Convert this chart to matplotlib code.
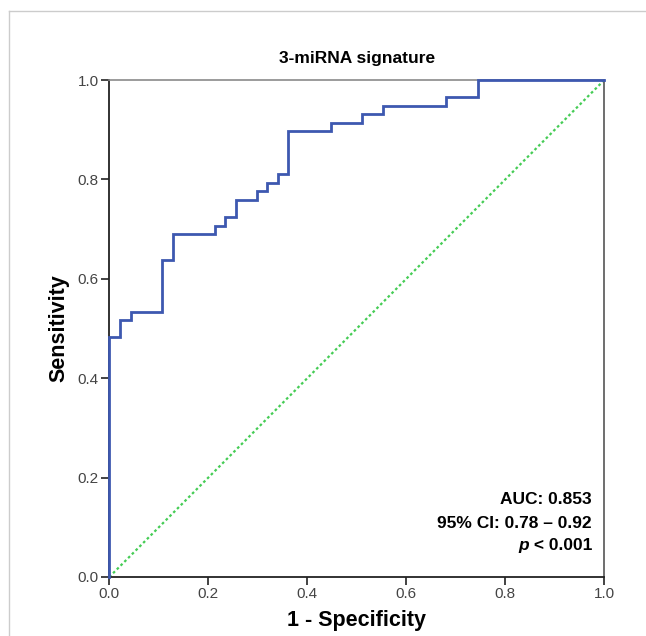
import matplotlib
matplotlib.use("Agg")
import matplotlib.pyplot as plt
from matplotlib.lines import Line2D

plt.rcParams['font.family'] = ['Liberation Sans', 'DejaVu Sans']

# ROC step corners (steps-post): false positive rate and sensitivity
fpr = [0.0, 0.0, 0.021, 0.043, 0.106, 0.128, 0.213, 0.234, 0.255, 0.298,
       0.319, 0.340, 0.362, 0.447, 0.511, 0.553, 0.681, 0.745, 1.0]
tpr = [0.0, 0.483, 0.517, 0.534, 0.638, 0.690, 0.707, 0.724, 0.759, 0.776,
       0.793, 0.810, 0.897, 0.914, 0.931, 0.948, 0.966, 1.0, 1.0]
ref_x = [0.0, 1.0]
ref_y = [0.0, 1.0]
ticks = [0.0, 0.2, 0.4, 0.6, 0.8, 1.0]
tick_labels = ["0.0", "0.2", "0.4", "0.6", "0.8", "1.0"]
title = "3-miRNA signature"
stats_lines = ["AUC: 0.853", "95% CI: 0.78 \u2013 0.92"]

fig = plt.figure(figsize=(6.46, 6.36), dpi=100)
ax = fig.add_axes([109.3 / 646, 59 / 636, 495 / 646, 497 / 636])

ax.plot(ref_x, ref_y, color='#45cc55', linestyle=(0, (1.2, 1.2)), lw=1.6, zorder=2)
ax.plot(fpr, tpr, drawstyle='steps-post', color='#3d58b0', lw=2.0, zorder=3,
        solid_joinstyle='miter', clip_on=False)

ax.set_xlim(0, 1)
ax.set_ylim(0, 1)
ax.set_xticks(ticks)
ax.set_xticklabels(tick_labels)
ax.set_yticks(ticks)
ax.set_yticklabels(tick_labels)
ax.tick_params(direction='out', length=6, width=1.2, color='#222222',
               labelsize=11, labelcolor='#444444', pad=1.5)

for side in ['left', 'bottom']:
    ax.spines[side].set_color('#222222')
    ax.spines[side].set_linewidth(1.3)
ax.spines['top'].set_color('#8a8a8a')
ax.spines['top'].set_linewidth(1.2)
ax.spines['right'].set_color('#555555')
ax.spines['right'].set_linewidth(1.2)

ax.set_xlabel("1 - Specificity", fontsize=15.5, fontweight='bold', labelpad=6)
ax.set_ylabel("Sensitivity", fontsize=15.5, fontweight='bold', labelpad=6)
ax.set_title(title, fontsize=12.5, fontweight='bold', pad=12)

ax.text(0.975, 0.155, stats_lines[0], transform=ax.transAxes, ha='right', va='center',
        fontsize=12.5, fontweight='bold')
ax.text(0.975, 0.108, stats_lines[1], transform=ax.transAxes, ha='right', va='center',
        fontsize=12.5, fontweight='bold')
ax.text(0.975, 0.063, r"$\boldsymbol{p}$" if False else "p", transform=ax.transAxes, ha='right', va='center',
        fontsize=12.5, alpha=0)
# p-value line with italic p
t = ax.text(0.975, 0.063, " < 0.001", transform=ax.transAxes, ha='right', va='center',
            fontsize=12.5, fontweight='bold')
fig.canvas.draw()
bb = t.get_window_extent()
x_left_axes = ax.transAxes.inverted().transform((bb.x0, bb.y0))[0]
ax.text(x_left_axes, 0.063, "p", transform=ax.transAxes, ha='right', va='center',
        fontsize=12.5, fontweight='bold', fontstyle='italic')

# outer light frame
fig.add_artist(Line2D([9 / 646, 9 / 646], [0, 1 - 11 / 636], transform=fig.transFigure,
                      color='#cccccc', lw=1.0))
fig.add_artist(Line2D([9 / 646, 1], [1 - 11 / 636, 1 - 11 / 636], transform=fig.transFigure,
                      color='#cccccc', lw=1.0))

fig.savefig("out.png", dpi=100)
